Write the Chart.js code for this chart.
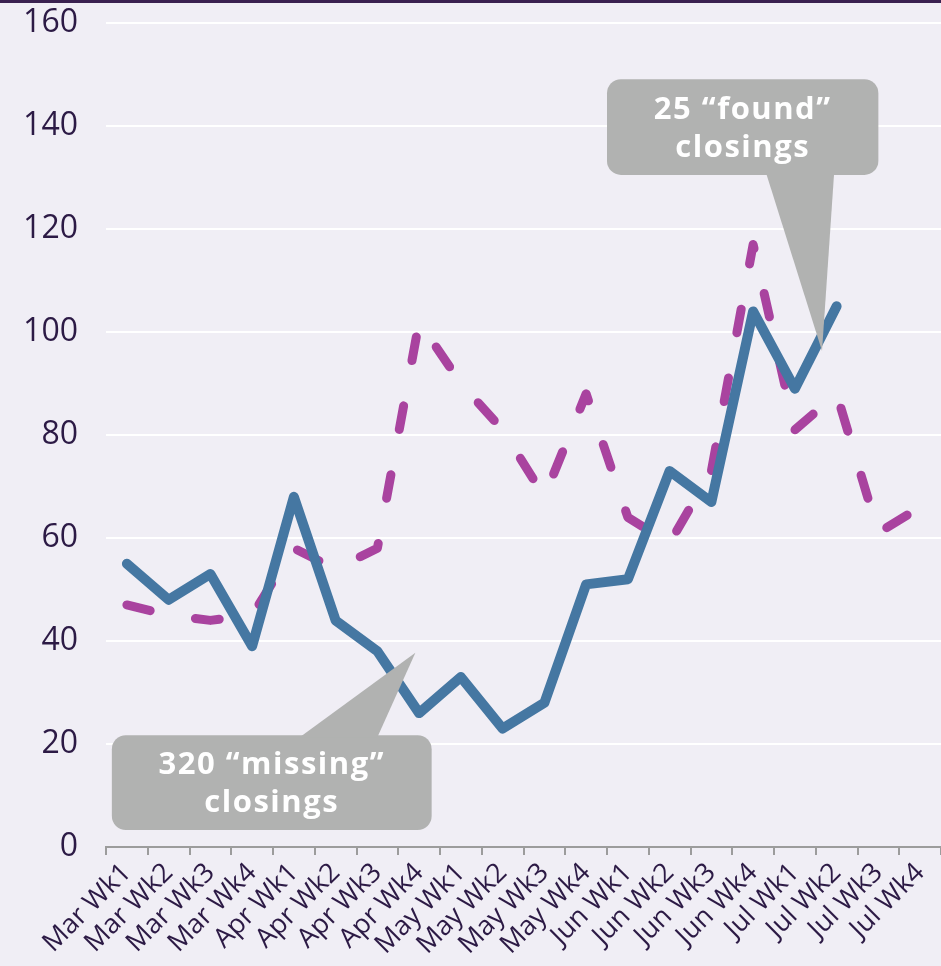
<!DOCTYPE html>
<html>
<head>
<meta charset="utf-8">
<script src="https://cdn.jsdelivr.net/npm/chart.js@4"></script>
<style>
    html, body { margin: 0; padding: 0; background: #f0eef5; }
    #wrap { width: 941px; height: 966px; }
</style>
</head>
<body>
<div id="wrap"><canvas id="myChart" width="941" height="966"></canvas></div>
<script>
// weekly closings, March - July
const weeks = ['Mar Wk1', 'Mar Wk2', 'Mar Wk3', 'Mar Wk4',
               'Apr Wk1', 'Apr Wk2', 'Apr Wk3', 'Apr Wk4',
               'May Wk1', 'May Wk2', 'May Wk3', 'May Wk4',
               'Jun Wk1', 'Jun Wk2', 'Jun Wk3', 'Jun Wk4',
               'Jul Wk1', 'Jul Wk2', 'Jul Wk3', 'Jul Wk4'];
const actualClosings = [55, 48, 53, 39, 68, 44, 38, 26, 33, 23, 28, 51, 52, 73, 67, 104, 89, 105, null, null];
const expectedClosings = [47, 45, 44, 45, 58, 54, 58, 102, 90, 81, 68, 88, 64, 59, 73, 117, 81, 88, 61, 66];
const yTicks = [0, 20, 40, 60, 80, 100, 120, 140, 160];

// callout boxes, placed in axis units (category index, closings)
const callouts = [
    { lines: ['320 \u201cmissing\u201d', 'closings'], box: [-0.36, 7.3, 21.7, 3.3], base: [4.14, 6.0], tip: [6.91, 37.7], side: 'top' },
    { lines: ['25 \u201cfound\u201d', 'closings'], box: [11.5, 18.0, 149.1, 130.5], base: [15.31, 16.94], tip: [16.65, 96.3], side: 'bottom' }
];

const textColor = '#2c1a45';

/********** PLUGINS **********/

const backdrop = {
    id: 'backdrop',
    beforeDraw(chart) {
        const ctx = chart.ctx;
        ctx.save();
        ctx.fillStyle = '#f0eef5';
        ctx.fillRect(0, 0, chart.width, chart.height);
        ctx.fillStyle = '#3a2150';
        ctx.fillRect(0, 0, chart.width, 3);
        ctx.restore();
    }
};

const calloutPlugin = {
    id: 'callouts',
    afterDatasetsDraw(chart) {
        const ctx = chart.ctx;
        const x = chart.scales.x, y = chart.scales.y;
        ctx.save();
        callouts.forEach(c => {
            const l = x.getPixelForValue(c.box[0]), r = x.getPixelForValue(c.box[1]);
            const t = y.getPixelForValue(c.box[2]), b = y.getPixelForValue(c.box[3]);
            const baseY = c.side === 'top' ? t + 2 : b - 2;
            ctx.fillStyle = '#b1b2b1';
            ctx.beginPath();
            ctx.roundRect(l, t, r - l, b - t, 14);
            ctx.fill();
            ctx.beginPath();
            ctx.moveTo(x.getPixelForValue(c.base[0]), baseY);
            ctx.lineTo(x.getPixelForValue(c.tip[0]), y.getPixelForValue(c.tip[1]));
            ctx.lineTo(x.getPixelForValue(c.base[1]), baseY);
            ctx.closePath();
            ctx.fill();

            ctx.fillStyle = '#ffffff';
            ctx.font = 'bold 31px "Open Sans"';
            ctx.letterSpacing = '1.5px';
            ctx.textAlign = 'center';
            ctx.textBaseline = 'middle';
            const cx = (l + r) / 2, cy = (t + b) / 2 + 2;
            ctx.fillText(c.lines[0], cx, cy - 19);
            ctx.fillText(c.lines[1], cx, cy + 19);
        });
        ctx.restore();
    }
};

/********** CHART **********/

const ctx = document.getElementById('myChart').getContext('2d');
const myChart = new Chart(ctx, {
    type: 'line',
    data: {
        labels: weeks,
        datasets: [{
            label: 'Actual closings',
            data: actualClosings,
            borderColor: '#4577a2',
            borderWidth: 10,
            borderJoinStyle: 'round',
            borderCapStyle: 'round',
            pointRadius: 0,
            tension: 0,
            spanGaps: false
        }, {
            label: 'Expected closings',
            data: expectedClosings,
            borderColor: '#a9439f',
            borderWidth: 9,
            borderDash: [24, 46],
            borderJoinStyle: 'round',
            borderCapStyle: 'round',
            pointRadius: 0,
            tension: 0
        }]
    },
    options: {
        responsive: false,
        animation: false,
        layout: { padding: { top: 23, left: 0, right: 0, bottom: 0 } },
        plugins: {
            legend: { display: false },
            tooltip: { enabled: false }
        },
        scales: {
            x: {
                offset: true,
                grid: {
                    offset: true,
                    drawOnChartArea: false,
                    drawTicks: true,
                    tickLength: 8,
                    color: '#9c9c9c',
                    lineWidth: 2
                },
                border: { display: true, color: '#9c9c9c', width: 2 },
                ticks: {
                    autoSkip: false,
                    minRotation: 45,
                    maxRotation: 45,
                    padding: 2,
                    color: textColor,
                    font: { family: 'Open Sans', size: 27 }
                },
                afterFit: s => {
                    s.height = 119;
                    s.paddingLeft = 0;
                    s.paddingRight = 0;
                }
            },
            y: {
                min: 0,
                max: 160,
                grid: { color: '#ffffff', lineWidth: 2, drawTicks: false },
                border: { display: false },
                ticks: {
                    padding: 28,
                    color: textColor,
                    font: { family: 'Open Sans', size: 32 }
                },
                afterBuildTicks: s => { s.ticks = yTicks.map(v => ({ value: v })); },
                afterFit: s => {
                    s.width = 106;
                    s.paddingTop = 0;
                    s.paddingBottom = 0;
                }
            }
        }
    },
    plugins: [backdrop, calloutPlugin]
});
</script>
</body>
</html>
